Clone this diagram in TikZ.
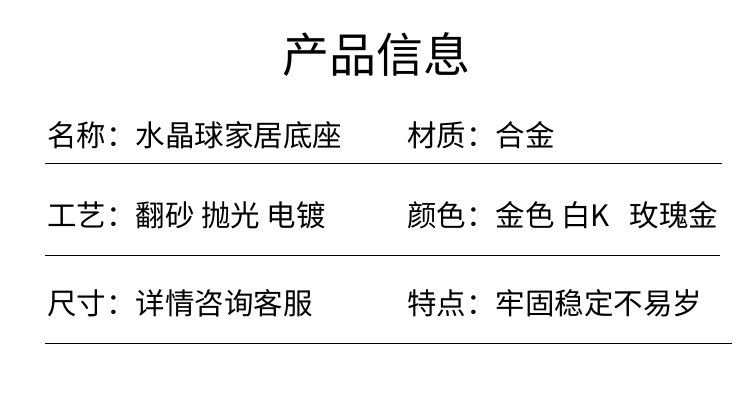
\documentclass[tikz,border=0pt]{standalone}
\usepackage{fontspec}
\newfontfamily\cjk{Noto Sans CJK SC}
\begin{document}
\begin{tikzpicture}[x=1pt,y=-1pt,
  txt/.style={anchor=west,inner sep=0pt,font=\cjk\fontsize{29.5}{29.5}\selectfont},
  rule/.style={line width=0.7pt}]
\useasboundingbox[fill=white] (0,0) rectangle (750,414);
\node[inner sep=0pt,font=\cjk\fontsize{47}{47}\selectfont] (title) at (376,55) {产品信息};
\node[txt] (a1) at (47,135) {名称：水晶球家居底座};
\node[txt] (a2) at (407,135) {材质：合金};
\node[txt] (b1) at (47,215) {工艺：翻砂\ 抛光\ 电镀};
\node[txt] (b2) at (407,215) {颜色：金色\ 白K\ \ \ 玫瑰金};
\node[txt] (c1) at (47,303) {尺寸：详情咨询客服};
\node[txt] (c2) at (407,303) {特点：牢固稳定不易岁};
\coordinate (l1a) at (45,163); \coordinate (l1b) at (722,163);
\coordinate (l2a) at (45,255); \coordinate (l2b) at (720,255);
\coordinate (l3a) at (45,343); \coordinate (l3b) at (732,343);
\draw[rule] (l1a) -- (l1b);
\draw[rule] (l2a) -- (l2b);
\draw[rule] (l3a) -- (l3b);
\end{tikzpicture}
\end{document}
